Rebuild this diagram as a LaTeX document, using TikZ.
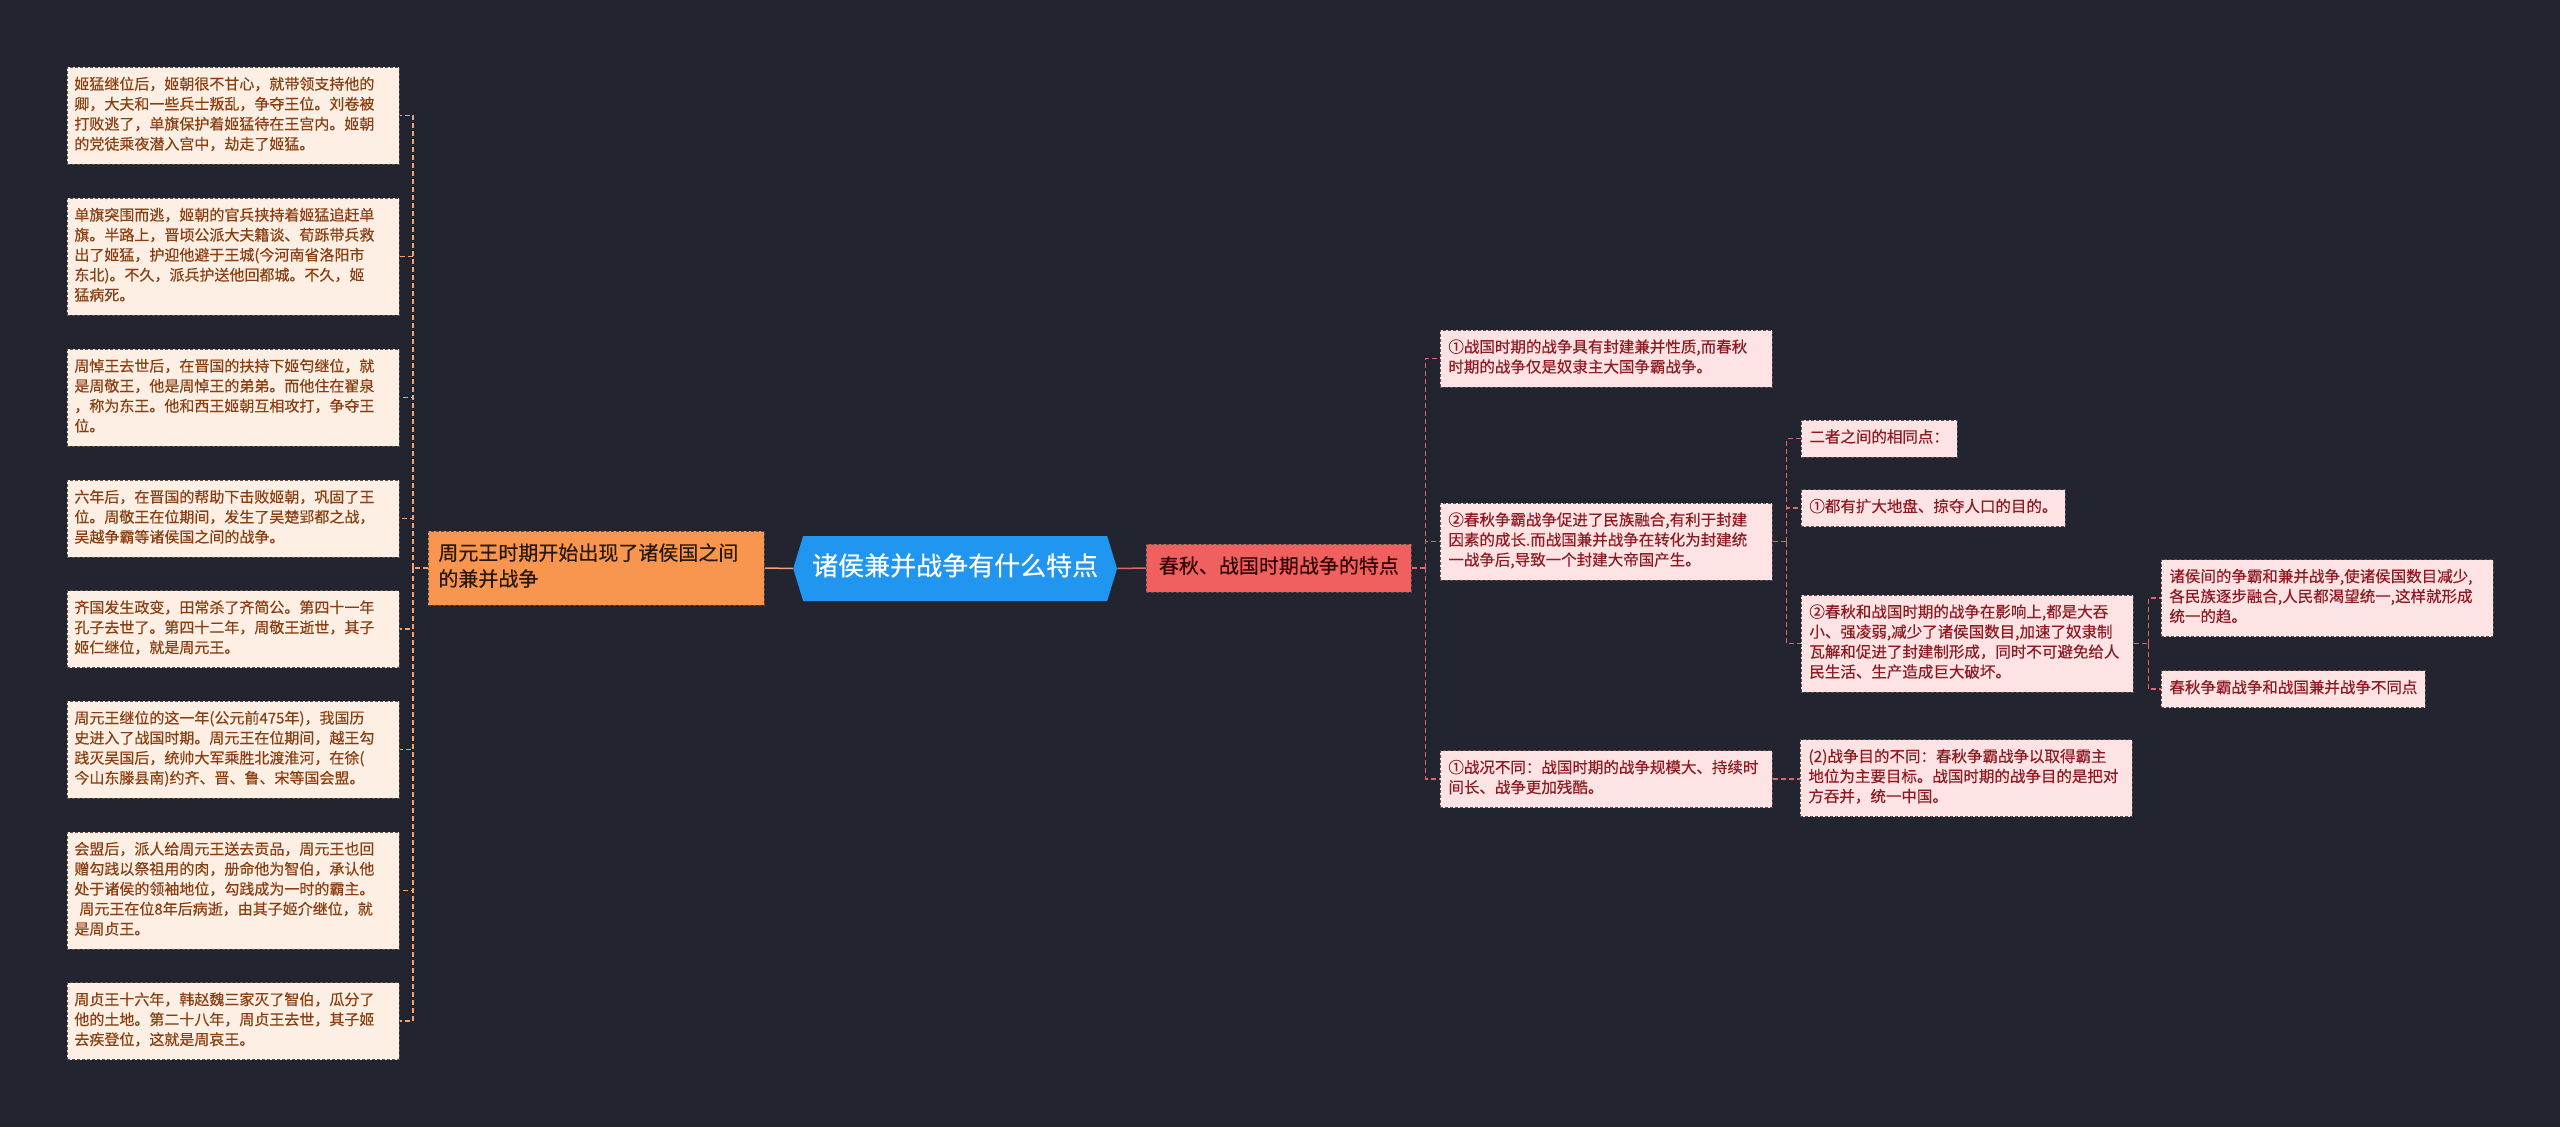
\documentclass[tikz,border=0pt]{standalone}
\usepackage{fontspec}
\setmainfont{Noto Sans CJK SC}[FakeBold=0.35]
\usetikzlibrary{shapes,arrows,fit,positioning,arrows.meta}
\usetikzlibrary{backgrounds}
\definecolor{bgc}{HTML}{22252F}
\definecolor{lfill}{HTML}{FDEFE4}
\definecolor{ltext}{HTML}{8A3D10}
\definecolor{lline}{HTML}{F2A274}
\definecolor{ofill}{HTML}{F8954F}
\definecolor{rootblue}{HTML}{2196F0}
\definecolor{redfill}{HTML}{F0605F}
\definecolor{rfill}{HTML}{FDE3E3}
\definecolor{rtext}{HTML}{8E1B22}
\definecolor{rline}{HTML}{E0666C}
\definecolor{boxline}{HTML}{5A4E4A}

\begin{document}
\begin{tikzpicture}[
    x=1pt, y=-1pt,
    % GLOBAL CFG
    font=\fontsize{15}{20}\selectfont,
    % Styles
    lbox/.style={% For the notes on the left
        rectangle,
        draw=boxline,
        fill=lfill,
        text=ltext,
        dash pattern=on 3pt off 2pt,
        line width=.8pt,
        text width=318pt,
        align=left,
        inner xsep=7pt,
        inner ysep=8.5pt,
        execute at begin node=\strut,
        execute at end node=\strut,
        },
    rbox/.style={% For the notes on the right
        rectangle,
        draw=boxline,
        fill=rfill,
        text=rtext,
        dash pattern=on 3pt off 2pt,
        line width=.8pt,
        font=\fontsize{15.5}{20}\selectfont,
        align=left,
        inner xsep=8pt,
        inner ysep=8.5pt,
        execute at begin node=\strut,
        execute at end node=\strut,
        },
    wide/.style={% long notes
        text width=316pt,
        },
    root/.style={% The central topic
        signal,
        signal to=west and east,
        signal pointer angle=146,
        fill=rootblue,
        text=white,
        font=\fontsize{26}{34}\selectfont,
        inner xsep=9pt,
        inner ysep=15.5pt,
        execute at begin node=\strut,
        },
    topic/.style={% main branches
        rectangle,
        draw=boxline,
        dash pattern=on 3pt off 2pt,
        line width=.8pt,
        font=\fontsize{20}{26}\selectfont,
        align=left,
        inner xsep=10pt,
        inner ysep=11pt,
        execute at begin node=\strut,
        execute at end node=\strut,
        },
    ArrowL/.style={% solid link to the left branch
        draw=lline,
        line width=1.5pt,
        },
    ArrowR/.style={% solid link to the right branch
        draw=rline,
        line width=1.5pt,
        },
    ArrowLd/.style={% dashed links on the left
        draw=lline,
        line width=1.3pt,
        dash pattern=on 5pt off 3pt,
        },
    ArrowRd/.style={% dashed links on the right
        draw=rline,
        line width=1.3pt,
        dash pattern=on 5pt off 3pt,
        }
    ]

    % Background and page size
    \fill [bgc] (0,0) rectangle (2560,1127);
    \useasboundingbox (0,0) rectangle (2560,1127);

    % Draw the central topic and the two branches
    \node [root, anchor=west] (root) at (793,568.5) {诸侯兼并战争有什么特点};
    \node [topic, fill=ofill, text=black!80!brown, text width=316pt, anchor=west] (topic1) at (428,568)
        {周元王时期开始出现了诸侯国之间\\的兼并战争};
    \node [topic, fill=redfill, text=black!80!red, inner xsep=12.5pt, anchor=west] (topic2) at (1146,568)
        {春秋、战国时期战争的特点};

    % Draw notes on the left, named l#
    \node [lbox, anchor=west] (l1) at (67,115.5) {姬猛继位后，姬朝很不甘心，就带领支持他的\\卿，大夫和一些兵士叛乱，争夺王位。刘卷被\\打败逃了，单旗保护着姬猛待在王宫内。姬朝\\的党徒乘夜潜入宫中，劫走了姬猛。};
    \node [lbox, anchor=west] (l2) at (67,256.5) {单旗突围而逃，姬朝的官兵挟持着姬猛追赶单\\旗。半路上，晋顷公派大夫籍谈、荀跞带兵救\\出了姬猛，护迎他避于王城(今河南省洛阳市\\东北)。不久，派兵护送他回都城。不久，姬\\猛病死。};
    \node [lbox, anchor=west] (l3) at (67,397.5) {周悼王去世后，在晋国的扶持下姬匄继位，就\\是周敬王，他是周悼王的弟弟。而他住在翟泉\\，称为东王。他和西王姬朝互相攻打，争夺王\\位。};
    \node [lbox, anchor=west] (l4) at (67,518.5) {六年后，在晋国的帮助下击败姬朝，巩固了王\\位。周敬王在位期间，发生了吴楚郢都之战，\\吴越争霸等诸侯国之间的战争。};
    \node [lbox, anchor=west] (l5) at (67,629) {齐国发生政变，田常杀了齐简公。第四十一年\\孔子去世了。第四十二年，周敬王逝世，其子\\姬仁继位，就是周元王。};
    \node [lbox, anchor=west] (l6) at (67,749.5) {周元王继位的这一年(公元前475年)，我国历\\史进入了战国时期。周元王在位期间，越王勾\\践灭吴国后，统帅大军乘胜北渡淮河，在徐(\\今山东滕县南)约齐、晋、鲁、宋等国会盟。};
    \node [lbox, anchor=west] (l7) at (67,890.5) {会盟后，派人给周元王送去贡品，周元王也回\\赠勾践以祭祖用的肉，册命他为智伯，承认他\\处于诸侯的领袖地位，勾践成为一时的霸主。\\\hspace*{5pt}周元王在位8年后病逝，由其子姬介继位，就\\是周贞王。};
    \node [lbox, anchor=west] (l8) at (67,1021) {周贞王十六年，韩赵魏三家灭了智伯，瓜分了\\他的土地。第二十八年，周贞王去世，其子姬\\去疾登位，这就是周哀王。};

    % Draw notes on the right, named r#, s#, t#
    \node [rbox, wide, anchor=west] (r1) at (1440,358.5) {①战国时期的战争具有封建兼并性质,而春秋\\时期的战争仅是奴隶主大国争霸战争。};
    \node [rbox, wide, anchor=west] (r2) at (1440,541.5) {②春秋争霸战争促进了民族融合,有利于封建\\因素的成长.而战国兼并战争在转化为封建统\\一战争后,导致一个封建大帝国产生。};
    \node [rbox, wide, anchor=west] (r3) at (1440,779) {①战况不同：战国时期的战争规模大、持续时\\间长、战争更加残酷。};
    \node [rbox, wide, anchor=west] (r4) at (1800,778) {(2)战争目的不同：春秋争霸战争以取得霸主\\地位为主要目标。战国时期的战争目的是把对\\方吞并，统一中国。};

    \node [rbox, anchor=west] (s1) at (1801,438.5) {二者之间的相同点：};
    \node [rbox, anchor=west] (s2) at (1801,508) {①都有扩大地盘、掠夺人口的目的。};
    \node [rbox, wide, anchor=west] (s3) at (1801,643.5) {②春秋和战国时期的战争在影响上,都是大吞\\小、强凌弱,减少了诸侯国数目,加速了奴隶制\\瓦解和促进了封建制形成，同时不可避免给人\\民生活、生产造成巨大破坏。};

    \node [rbox, wide, anchor=west] (t1) at (2161,598) {诸侯间的争霸和兼并战争,使诸侯国数目减少,\\各民族逐步融合,人民都渴望统一,这样就形成\\统一的趋。};
    \node [rbox, anchor=west] (t2) at (2161,689) {春秋争霸战争和战国兼并战争不同点};

% Start connecting all.
    % Main links
    \draw [ArrowL] (topic1.east) -- (root.west);
    \draw [ArrowR] (root.east) -- (topic2.west);

    % Left side
    \draw [ArrowLd] (topic1.west) -- ++(-15,0) coordinate (lj);
    \foreach \i in {1,...,8}
        \draw [ArrowLd] (lj) |- (l\i.east);

    % Right side
    \draw [ArrowRd] (topic2.east) -- ++(14,0) coordinate (rj);
    \foreach \n in {r1,r2,r3}
        \draw [ArrowRd] (rj) |- (\n.west);
    \draw [ArrowRd] (r3.east) -- (r3.east -| r4.west);

    \draw [ArrowRd] (r2.east) -- ++(14,0) coordinate (sj);
    \foreach \n in {s1,s2,s3}
        \draw [ArrowRd] (sj) |- (\n.west);

    \draw [ArrowRd] (s3.east) -- ++(15,0) coordinate (tj);
    \foreach \n in {t1,t2}
        \draw [ArrowRd] (tj) |- (\n.west);

\end{tikzpicture}
\end{document}
